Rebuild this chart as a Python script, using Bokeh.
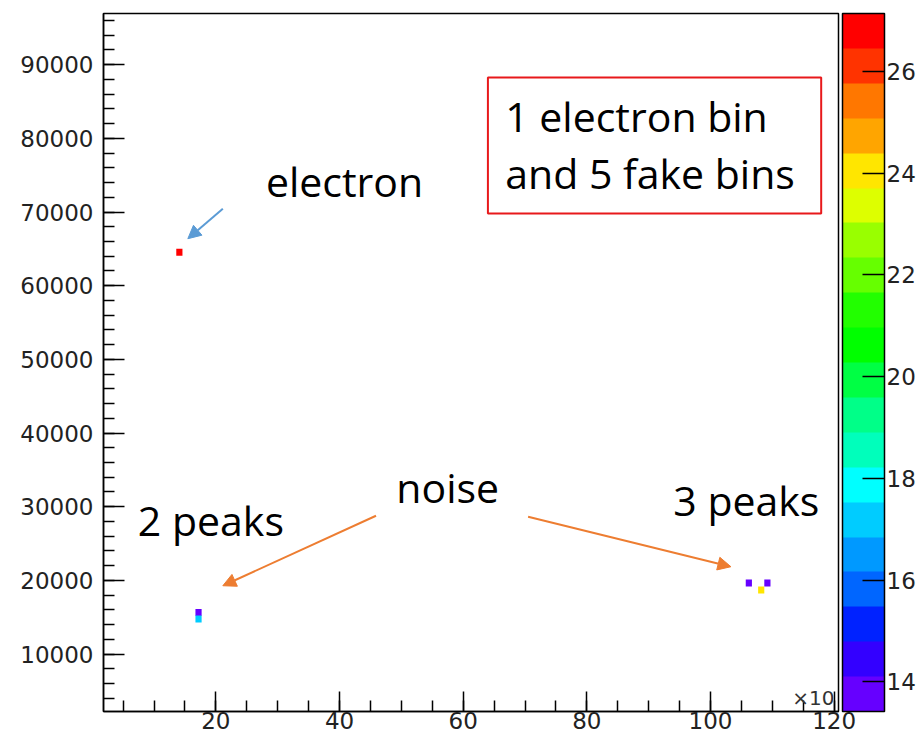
from bokeh.plotting import figure
from bokeh.models import (ColumnDataSource, LinearColorMapper, ColorBar, FixedTicker,
                          SingleIntervalTicker, Range1d, Label, Arrow, NormalHead, BoxAnnotation)
from bokeh.embed import file_html
from bokeh.resources import INLINE

# ---- data ----
bin_x = [14.1, 17.2, 17.2, 106.2, 108.2, 109.2]
bin_y = [64550, 15650, 14750, 19650, 18700, 19650]
bin_z = [26.9, 13.7, 17.2, 13.8, 24.0, 13.9]
bin_label = ["electron", "noise", "noise", "noise", "noise", "noise"]

x_ticks_interval = 20
y_ticks_interval = 10000
colorbar_ticks = [14, 16, 18, 20, 22, 24, 26]
z_low, z_high = 13.42, 27.14

palette = ["#6600ff", "#3300ff", "#0022ff", "#0066ff", "#0099ff", "#00ccff", "#00ffff",
           "#00ffbb", "#00ff88", "#00ff44", "#00ff00", "#22ff00", "#66ff00", "#99ff00",
           "#ddff00", "#ffe600", "#ffa500", "#ff7700", "#ff3300", "#ff0000"]

BIN_W = 1.0
BIN_H = 950

src = ColumnDataSource(dict(x=bin_x, y=bin_y, z=bin_z, kind=bin_label))
mapper = LinearColorMapper(palette=palette, low=z_low, high=z_high)

p = figure(width=918, height=738, output_backend="svg", toolbar_location=None,
           x_range=Range1d(1.83, 120.7), y_range=Range1d(2200, 96950),
           min_border_left=103, min_border_right=80, min_border_top=13, min_border_bottom=27,
           background_fill_color="white", border_fill_color="white")
p.grid.visible = False
p.outline_line_color = "black"
p.outline_line_width = 1.5
p.outline_line_alpha = 1.0

p.rect(x="x", y="y", width=BIN_W, height=BIN_H, source=src,
       fill_color={"field": "z", "transform": mapper}, line_color=None)

tick_font = "DejaVu Sans"
tick_size = "23px"
for ax in (p.xaxis[0], p.yaxis[0]):
    ax.axis_line_color = "black"
    ax.axis_line_width = 1.5
    ax.major_tick_line_color = "black"
    ax.major_tick_line_width = 1.5
    ax.minor_tick_line_color = "black"
    ax.minor_tick_line_width = 1.5
    ax.major_tick_out = 0
    ax.minor_tick_out = 0
    ax.major_label_text_font = tick_font
    ax.major_label_text_font_size = tick_size
    ax.major_label_text_color = "#222222"

p.xaxis.ticker = SingleIntervalTicker(interval=x_ticks_interval, num_minor_ticks=4)
p.yaxis.ticker = SingleIntervalTicker(interval=y_ticks_interval, num_minor_ticks=5)
p.xaxis.major_tick_in = 20
p.xaxis.minor_tick_in = 11
p.yaxis.major_tick_in = 21
p.yaxis.minor_tick_in = 11
p.xaxis.major_label_standoff = 0
p.yaxis.major_label_standoff = 10

cb = ColorBar(color_mapper=mapper, ticker=FixedTicker(ticks=colorbar_ticks),
              width=42, padding=0, margin=0, location=(4, 0),
              label_standoff=2, major_tick_in=22, major_tick_out=0,
              major_tick_line_color="black", major_tick_line_width=1.5,
              minor_tick_line_color=None,
              bar_line_color="black", bar_line_width=1.5,
              border_line_color=None, background_fill_color=None,
              major_label_text_font=tick_font, major_label_text_font_size=tick_size,
              major_label_text_color="#222222")
p.add_layout(cb, "right")

# ---- annotations ----
ann_font = "Open Sans"
ann_size = "41px"
p.add_layout(Label(x=28.1, y=74270, text="electron", text_font=ann_font,
                   text_font_size=ann_size, text_baseline="middle", text_color="black"))
p.add_layout(Label(x=57.5, y=32700, text="noise", text_font=ann_font,
                   text_font_size=ann_size, text_baseline="middle", text_align="center",
                   text_color="black"))
p.add_layout(Label(x=19.2, y=28250, text="2 peaks", text_font=ann_font,
                   text_font_size=ann_size, text_baseline="middle", text_align="center",
                   text_color="black"))
p.add_layout(Label(x=105.8, y=30900, text="3 peaks", text_font=ann_font,
                   text_font_size=ann_size, text_baseline="middle", text_align="center",
                   text_color="black"))

p.add_layout(BoxAnnotation(left=64.0, right=117.9, bottom=69800, top=88250,
                           fill_color=None, fill_alpha=0, line_color="#e8191b",
                           line_alpha=1.0, line_width=2))
p.add_layout(Label(x=66.8, y=83060, text="1 electron bin", text_font=ann_font,
                   text_font_size=ann_size, text_baseline="middle", text_color="black"))
p.add_layout(Label(x=66.8, y=75350, text="and 5 fake bins", text_font=ann_font,
                   text_font_size=ann_size, text_baseline="middle", text_color="black"))

blue = "#5b9bd5"
orange = "#ed7d31"
p.add_layout(Arrow(end=NormalHead(size=13, fill_color=blue, line_color=blue),
                   x_start=21.13, y_start=70454, x_end=15.47, y_end=66380,
                   line_color=blue, line_width=2))
p.add_layout(Arrow(end=NormalHead(size=13, fill_color=orange, line_color=orange),
                   x_start=45.9, y_start=28775, x_end=21.13, y_end=19272,
                   line_color=orange, line_width=2))
p.add_layout(Arrow(end=NormalHead(size=13, fill_color=orange, line_color=orange),
                   x_start=70.5, y_start=28640, x_end=103.3, y_end=21852,
                   line_color=orange, line_width=2))

# axis exponent marker, kept just inside the frame's bottom-right corner
exp_label = Label(x=731, y=2, x_units="screen", y_units="screen", text="×10",
                  text_font=tick_font, text_font_size="20px", text_baseline="bottom",
                  text_align="right", text_color="#333333", level="overlay")
p.add_layout(exp_label)

open("out.html", "w").write(file_html(p, INLINE))
